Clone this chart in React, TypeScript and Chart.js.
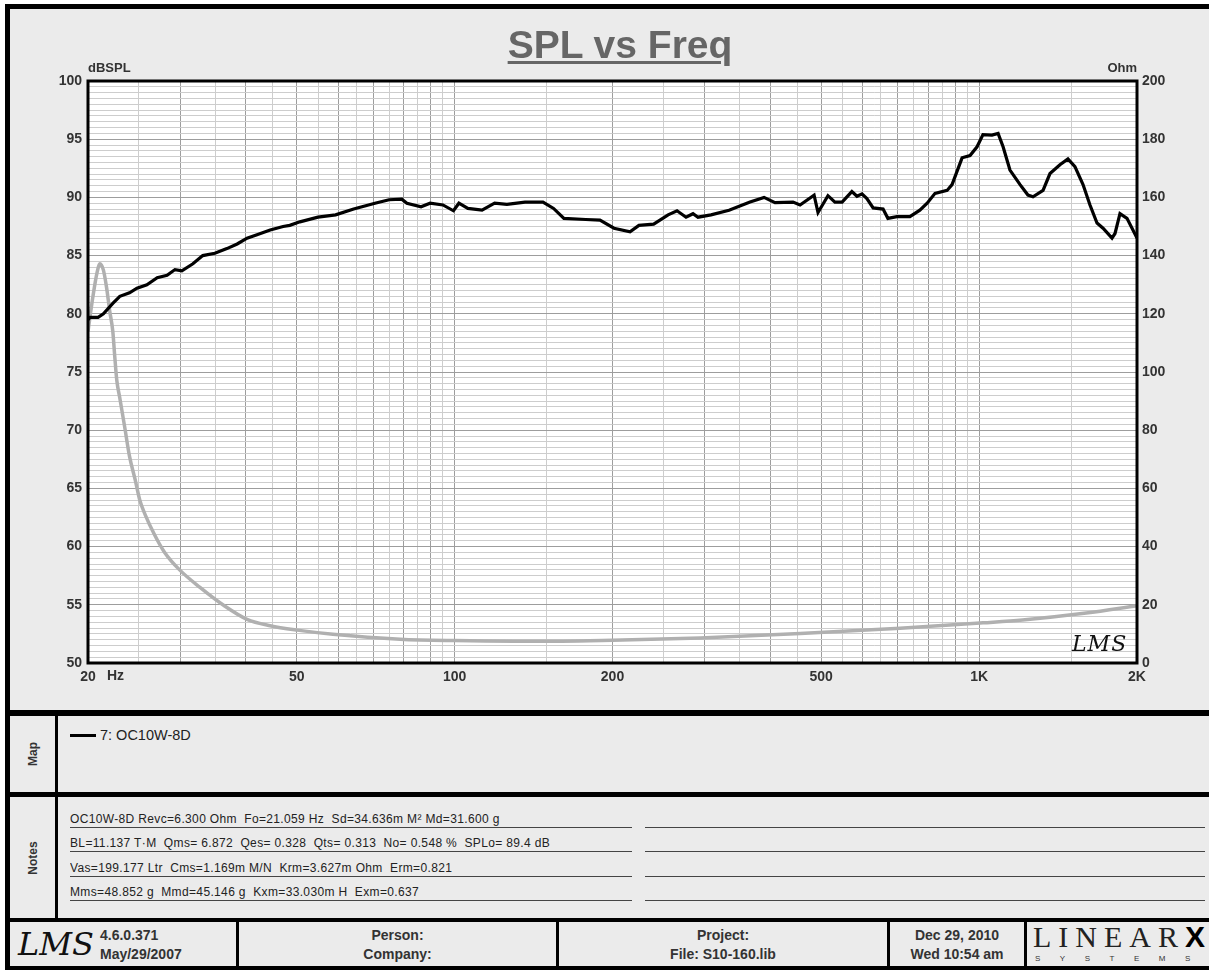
import React, { useEffect, useRef } from 'react';
import { Chart, registerables } from 'chart.js';

Chart.register(...registerables);

// ---- SPL curve (black, left axis, dBSPL) ----
const splFreq = [20, 20.2, 20.9, 21.4, 22.3, 23.0, 24.0, 24.8, 25.9, 27.1,
  28.3, 29.3, 30.2, 31.7, 33.1, 34.9, 36.8, 38.5, 40.2, 42.0,
  44.5, 47.1, 48.5, 50.7, 54.9, 59.3, 64.2, 70.5, 75.0, 79.3,
  81.1, 86.3, 89.8, 95.0, 99.5, 101.9, 106, 112.8, 119.2, 125.8,
  136.2, 147.4, 154.4, 161.6, 177.8, 189.3, 201.3, 216, 224.6, 239.6,
  255.3, 265.5, 276.2, 284.8, 291.1, 308.2, 333.6, 365.8, 389, 408.2,
  441.8, 455.6, 484.6, 493, 515, 531, 548, 572, 585, 598,
  611, 628, 656, 670, 697, 738, 771, 796, 824, 869,
  888, 928, 961, 991, 1017, 1058, 1087, 1111, 1145, 1197,
  1239, 1267, 1324, 1365, 1426, 1477, 1523, 1578, 1627, 1678,
  1723, 1792, 1816, 1856, 1914, 2000];
const splDb = [79.5, 79.7, 79.7, 80.0, 80.9, 81.5, 81.8, 82.2, 82.5, 83.1,
  83.3, 83.8, 83.7, 84.3, 85.0, 85.2, 85.6, 86.0, 86.5, 86.8,
  87.2, 87.5, 87.6, 87.9, 88.3, 88.5, 89.0, 89.5, 89.8, 89.85,
  89.5, 89.2, 89.5, 89.35, 88.85, 89.5, 89.05, 88.9, 89.5, 89.4,
  89.6, 89.6, 89.05, 88.2, 88.1, 88.05, 87.35, 87.05, 87.6, 87.7,
  88.5, 88.85, 88.3, 88.6, 88.3, 88.5, 88.9, 89.6, 90.0, 89.55,
  89.6, 89.35, 90.2, 88.7, 90.15, 89.6, 89.6, 90.5, 90.1, 90.3,
  89.9, 89.1, 89.0, 88.2, 88.35, 88.35, 88.9, 89.5, 90.35, 90.6,
  91.1, 93.4, 93.6, 94.35, 95.4, 95.35, 95.5, 94.35, 92.35, 91.1,
  90.2, 90.05, 90.6, 92.05, 92.8, 93.3, 92.65, 91.1, 89.35, 87.8,
  87.35, 86.5, 86.9, 88.6, 88.2, 86.5];

// ---- Impedance curve (gray, right axis, Ohm) ----
const impFreq = [20, 20.44, 20.8, 21.08, 21.4, 21.7, 22.0, 22.3, 22.5, 22.7,
  23.0, 23.5, 24.0, 24.6, 25.1, 25.7, 26.8, 28.0, 29.9, 32.7,
  36.5, 40.2, 44.5, 50.1, 58.6, 78.7, 100, 130, 160, 200,
  294, 456, 707, 1017, 1210, 1600, 2000];
const impOhm = [114, 126, 134, 137.2, 135, 129, 121, 114, 105, 97,
  91, 81, 71, 63, 56, 51, 44, 38, 32, 26,
  19.5, 15, 12.8, 11.3, 9.9, 8.2, 7.7, 7.5, 7.5, 7.8,
  8.6, 10.1, 11.9, 13.8, 14.8, 17.2, 19.7];

// ---- axes ----
const freqGridLines = [20, 25, 30, 35, 40, 45, 50, 55, 60, 65, 70, 75, 80, 85, 90, 95, 100,
  150, 200, 250, 300, 350, 400, 450, 500, 550, 600, 650, 700, 750, 800, 850, 900, 950, 1000,
  1500, 2000];
const freqMajorLines = [20, 30, 40, 50, 60, 70, 80, 90, 100, 200, 300, 400, 500, 600, 700, 800, 900, 1000, 2000];
const freqTickValues = [20, 50, 100, 200, 500, 1000, 2000];
const freqTickLabels = ['20', '50', '100', '200', '500', '1K', '2K'];
const dbLabelTicks = [50, 55, 60, 65, 70, 75, 80, 85, 90, 95, 100];
const dbMinorStep = 0.5;
const ohmTicks = [0, 20, 40, 60, 80, 100, 120, 140, 160, 180, 200];

const notesLines = [
  'OC10W-8D Revc=6.300 Ohm  Fo=21.059 Hz  Sd=34.636m M\u00B2 Md=31.600 g',
  'BL=11.137 T\u00B7M  Qms= 6.872  Qes= 0.328  Qts= 0.313  No= 0.548 %  SPLo= 89.4 dB',
  'Vas=199.177 Ltr  Cms=1.169m M/N  Krm=3.627m Ohm  Erm=0.821',
  'Mms=48.852 g  Mmd=45.146 g  Kxm=33.030m H  Exm=0.637',
];

const PANEL = '#ebebeb';
const FONT = '"Liberation Sans", Arial, sans-serif';
const TXT = '#333';

function abs(left: number, top: number, width: number, height: number, extra: React.CSSProperties = {}): React.CSSProperties {
  return { position: 'absolute', left, top, width, height, ...extra };
}

export default function App() {
  const ref = useRef<HTMLCanvasElement>(null);

  useEffect(() => {
    document.body.style.margin = '0';
    const canvas = ref.current;
    if (!canvas) return;
    const dbGrid: number[] = [];
    for (let v = 50; v <= 100.0001; v += dbMinorStep) dbGrid.push(Math.round(v * 10) / 10);
    const majorF = new Set(freqMajorLines);
    const majorDb = new Set(dbLabelTicks);
    const tickFont = { family: FONT, size: 14, weight: 'bold' as const };

    const framePlugin = {
      id: 'lmsFrame',
      beforeDraw(chart: any) {
        const { ctx, chartArea: a } = chart;
        ctx.save();
        ctx.fillStyle = '#ffffff';
        ctx.fillRect(a.left, a.top, a.right - a.left, a.bottom - a.top);
        ctx.restore();
      },
      afterDraw(chart: any) {
        const { ctx, chartArea: a } = chart;
        ctx.save();
        ctx.strokeStyle = '#000';
        ctx.lineWidth = 3;
        ctx.strokeRect(a.left, a.top, a.right - a.left, a.bottom - a.top);
        const xs = chart.scales.x;
        ctx.fillStyle = TXT;
        ctx.font = `bold 14px ${FONT}`;
        ctx.textBaseline = 'top';
        ctx.textAlign = 'left';
        ctx.fillText('Hz', xs.getPixelForValue(20) + 19, a.bottom + 6);
        ctx.restore();
      },
    };

    const chart = new Chart(canvas, {
      type: 'line',
      data: {
        datasets: [
          {
            label: 'SPL',
            data: splFreq.map((f, i) => ({ x: f, y: splDb[i] })),
            borderColor: '#000000',
            borderWidth: 3.2,
            pointRadius: 0,
            yAxisID: 'y',
            tension: 0,
          },
          {
            label: 'Impedance',
            data: impFreq.map((f, i) => ({ x: f, y: impOhm[i] })),
            borderColor: '#b0b0b0',
            borderWidth: 3.5,
            pointRadius: 0,
            yAxisID: 'y1',
            cubicInterpolationMode: 'monotone',
          },
        ],
      },
      options: {
        animation: false,
        responsive: false,
        devicePixelRatio: 1,
        layout: { padding: { top: 72, left: 0, right: 0, bottom: 0 } },
        plugins: { legend: { display: false }, title: { display: false }, tooltip: { enabled: false } },
        scales: {
          x: {
            type: 'logarithmic',
            min: 20,
            max: 2000,
            afterBuildTicks: (s: any) => { s.ticks = freqGridLines.map((v) => ({ value: v })); },
            afterFit: (s: any) => { s.height = 47; },
            ticks: {
              autoSkip: false,
              maxRotation: 0,
              minRotation: 0,
              padding: 6,
              color: TXT,
              font: tickFont,
              callback: (v: any) => {
                const i = freqTickValues.indexOf(Number(v));
                return i >= 0 ? freqTickLabels[i] : '';
              },
            },
            grid: {
              drawTicks: false,
              lineWidth: 1,
              color: (ctx: any) => (ctx.tick && majorF.has(ctx.tick.value) ? '#9d9d9d' : '#cdcdcd'),
            },
            border: { display: false },
          },
          y: {
            type: 'linear',
            position: 'left',
            min: 50,
            max: 100,
            afterBuildTicks: (s: any) => { s.ticks = dbGrid.map((v) => ({ value: v })); },
            afterFit: (s: any) => { s.width = 78; },
            ticks: {
              autoSkip: false,
              padding: 6,
              color: TXT,
              font: tickFont,
              callback: (v: any) => (majorDb.has(Number(v)) ? String(v) : ''),
            },
            grid: {
              drawTicks: false,
              lineWidth: 1,
              color: (ctx: any) => (ctx.tick && majorDb.has(ctx.tick.value) ? '#9d9d9d' : '#cdcdcd'),
            },
            border: { display: false },
          },
          y1: {
            type: 'linear',
            position: 'right',
            min: 0,
            max: 200,
            afterBuildTicks: (s: any) => { s.ticks = ohmTicks.map((v) => ({ value: v })); },
            afterFit: (s: any) => { s.width = 72; },
            ticks: { autoSkip: false, padding: 5, color: TXT, font: tickFont },
            grid: { drawOnChartArea: false, drawTicks: false },
            border: { display: false },
          },
        },
      } as any,
      plugins: [framePlugin],
    });
    return () => chart.destroy();
  }, []);

  const labelBold: React.CSSProperties = { fontFamily: FONT, fontWeight: 'bold', color: TXT };

  return (
    <div style={{ position: 'fixed', left: 0, top: 0, width: 1209, height: 970, background: '#fff', overflow: 'hidden', fontFamily: FONT }}>
      {/* outer black frame */}
      <div style={abs(5, 4, 1220, 970, { background: '#000' })} />

      {/* chart panel */}
      <div style={abs(10, 9, 1199, 701, { background: PANEL })}>
        <canvas ref={ref} width={1199} height={701} style={{ position: 'absolute', left: 0, top: 0, display: 'block' }} />
        <div style={abs(410, 15, 400, 46, { textAlign: 'center', fontSize: 39, lineHeight: '42px', fontWeight: 'bold', color: '#666', textDecoration: 'underline', textDecorationThickness: '3px', textUnderlineOffset: '3px', fontFamily: FONT })}>
          SPL vs Freq
        </div>
        <div style={abs(78, 51, 80, 16, { ...labelBold, fontSize: 13, lineHeight: '16px' })}>dBSPL</div>
        <div style={abs(1047, 51, 80, 16, { ...labelBold, fontSize: 13, lineHeight: '16px', textAlign: 'right' })}>Ohm</div>
        <div style={abs(1062, 620, 60, 30, { fontFamily: '"DejaVu Serif", serif', fontStyle: 'italic', fontSize: 22, lineHeight: '30px', color: '#111', letterSpacing: 1 })}>LMS</div>
      </div>

      {/* map panel */}
      <div style={abs(10, 716, 45, 76, { background: PANEL })}>
        <div style={{ position: 'absolute', left: '50%', top: '50%', transform: 'translate(-50%,-50%) rotate(-90deg)', ...labelBold, fontSize: 12, whiteSpace: 'nowrap' }}>Map</div>
      </div>
      <div style={abs(58, 716, 1151, 76, { background: PANEL })}>
        <div style={abs(12, 18, 26, 3, { background: '#000' })} />
        <div style={abs(42, 10, 200, 18, { fontSize: 14.5, lineHeight: '18px', color: '#222', fontFamily: FONT })}>7: OC10W-8D</div>
      </div>

      {/* notes panel */}
      <div style={abs(10, 797, 45, 121, { background: PANEL })}>
        <div style={{ position: 'absolute', left: '50%', top: '50%', transform: 'translate(-50%,-50%) rotate(-90deg)', ...labelBold, fontSize: 12, whiteSpace: 'nowrap' }}>Notes</div>
      </div>
      <div style={abs(58, 797, 1151, 121, { background: PANEL })}>
        {notesLines.map((t, i) => {
          const y = [30, 54, 79, 103][i];
          return (
            <React.Fragment key={i}>
              <div style={abs(12, y - 16, 562, 16, { borderBottom: '1px solid #444', fontSize: 12, letterSpacing: 0.35, lineHeight: '16px', color: '#222', whiteSpace: 'pre', fontFamily: FONT, overflow: 'hidden' })}>{t}</div>
              <div style={abs(587, y - 16, 560, 16, { borderBottom: '1px solid #444' })} />
            </React.Fragment>
          );
        })}
      </div>

      {/* footer */}
      <div style={abs(10, 922, 226, 44, { background: PANEL })}>
        <div style={abs(8, 2, 80, 40, { fontFamily: '"DejaVu Serif", serif', fontStyle: 'italic', fontSize: 32, lineHeight: '40px', color: '#111' })}>LMS</div>
        <div style={abs(90, 4, 130, 19, { ...labelBold, fontSize: 14, lineHeight: '19px' })}>4.6.0.371</div>
        <div style={abs(90, 23, 130, 19, { ...labelBold, fontSize: 14, lineHeight: '19px' })}>May/29/2007</div>
      </div>
      <div style={abs(239, 922, 317, 44, { background: PANEL, textAlign: 'center', ...labelBold, fontSize: 14, lineHeight: '19px', paddingTop: 4, boxSizing: 'border-box' })}>
        <div>Person:</div>
        <div>Company:</div>
      </div>
      <div style={abs(559, 922, 328, 44, { background: PANEL, textAlign: 'center', ...labelBold, fontSize: 14, lineHeight: '19px', paddingTop: 4, boxSizing: 'border-box' })}>
        <div>Project:</div>
        <div>File: S10-160.lib</div>
      </div>
      <div style={abs(890, 922, 134, 44, { background: PANEL, textAlign: 'center', ...labelBold, fontSize: 14, lineHeight: '19px', paddingTop: 4, boxSizing: 'border-box' })}>
        <div>Dec 29, 2010</div>
        <div>Wed 10:54 am</div>
      </div>
      <div style={abs(1027, 922, 182, 44, { background: PANEL })}>
        <div style={abs(6, 0, 180, 30, { fontFamily: '"Liberation Serif", serif', fontSize: 30, lineHeight: '30px', color: '#222', letterSpacing: 7, whiteSpace: 'nowrap' })}>
          LINEAR<span style={{ fontFamily: FONT, fontWeight: 900, color: '#000', letterSpacing: 0 }}>X</span>
        </div>
        <div style={abs(8, 32, 180, 10, { fontFamily: FONT, fontSize: 8, lineHeight: '10px', color: '#333', letterSpacing: 19.5, whiteSpace: 'nowrap' })}>SYSTEMS</div>
      </div>
    </div>
  );
}
